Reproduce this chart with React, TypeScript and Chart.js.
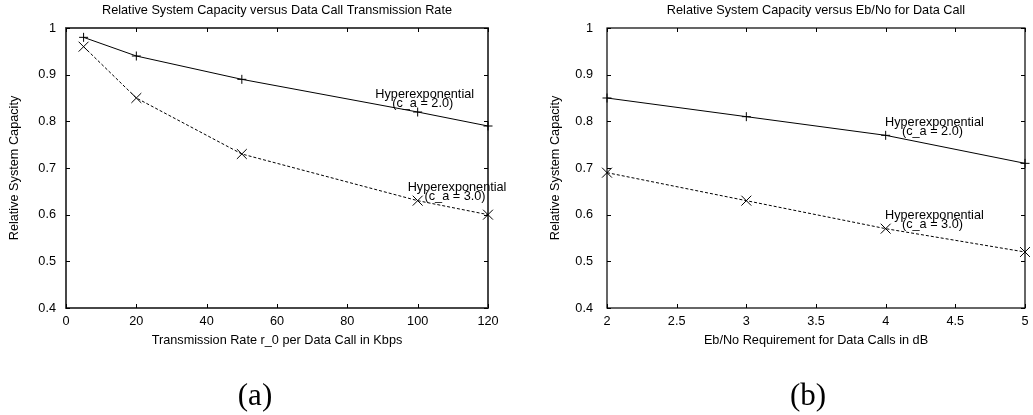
import React, { useEffect, useRef } from "react";
import { Chart, registerables } from "chart.js";

Chart.register(...registerables);

// ---- data ----
const rateX = [5, 20, 50, 100, 120];
const rateCa2 = [0.98, 0.94, 0.89, 0.82, 0.79];
const rateCa3 = [0.96, 0.85, 0.73, 0.63, 0.6];

const ebX = [2, 3, 4, 5];
const ebCa2 = [0.85, 0.81, 0.77, 0.71];
const ebCa3 = [0.69, 0.63, 0.57, 0.52];

const rateTicks = [0, 20, 40, 60, 80, 100, 120];
const rateTickLabels = ["0", "20", "40", "60", "80", "100", "120"];
const ebTicks = [2, 2.5, 3, 3.5, 4, 4.5, 5];
const ebTickLabels = ["2", "2.5", "3", "3.5", "4", "4.5", "5"];
const yTicks = [0.4, 0.5, 0.6, 0.7, 0.8, 0.9, 1];
const yTickLabels = ["0.4", "0.5", "0.6", "0.7", "0.8", "0.9", "1"];

const SANS = '"Liberation Sans", Arial, Helvetica, sans-serif';
const FONT = `12.7px ${SANS}`;

type Panel = {
  left: number;
  width: number;
  pad: { left: number; right: number; top: number; bottom: number };
  xMin: number;
  xMax: number;
  xs: number[];
  ca2: number[];
  ca3: number[];
  xTicks: number[];
  xTickLabels: string[];
  title: string;
  xTitle: string;
  yTitleX: number;
  yLabelGap: number;
  caption: string;
  captionX: number;
  frameWidth: number;
  frameColor: string;
  notes: { x: number; y: number; lines: string[] }[];
};

const panels: Panel[] = [
  {
    left: 0,
    width: 520,
    pad: { left: 66, right: 32, top: 28, bottom: 107 },
    xMin: 0,
    xMax: 120,
    xs: rateX,
    ca2: rateCa2,
    ca3: rateCa3,
    xTicks: rateTicks,
    xTickLabels: rateTickLabels,
    title: "Relative System Capacity versus Data Call Transmission Rate",
    xTitle: "Transmission Rate r_0 per Data Call in Kbps",
    yTitleX: 14,
    yLabelGap: 10,
    caption: "(a)",
    captionX: 255,
    frameWidth: 1.8,
    frameColor: "#333",
    notes: [
      { x: 102, y: 0.858, lines: ["Hyperexponential", "(c_a = 2.0)"] },
      { x: 111.2, y: 0.659, lines: ["Hyperexponential", "(c_a = 3.0)"] },
    ],
  },
  {
    left: 520,
    width: 513,
    pad: { left: 87, right: 4, top: 28, bottom: 107 },
    xMin: 2,
    xMax: 5,
    xs: ebX,
    ca2: ebCa2,
    ca3: ebCa3,
    xTicks: ebTicks,
    xTickLabels: ebTickLabels,
    title: "Relative System Capacity versus Eb/No for Data Call",
    xTitle: "Eb/No Requirement for Data Calls in dB",
    yTitleX: 35,
    yLabelGap: 14,
    caption: "(b)",
    captionX: 288,
    frameWidth: 1.2,
    frameColor: "#000",
    notes: [
      { x: 4.35, y: 0.7985, lines: ["Hyperexponential", "(c_a = 2.0)"] },
      { x: 4.35, y: 0.599, lines: ["Hyperexponential", "(c_a = 3.0)"] },
    ],
  },
];

function makePlugin(p: Panel) {
  return {
    id: "gnuplotFrame",
    beforeDatasetsDraw(chart: any) {
      const { ctx, chartArea } = chart;
      const xs = chart.scales.x;
      const ys = chart.scales.y;
      const { left, right, top, bottom } = chartArea;
      ctx.save();
      ctx.strokeStyle = p.frameColor;
      ctx.lineWidth = p.frameWidth;
      ctx.strokeRect(left, top, right - left, bottom - top);
      ctx.lineWidth = 1;
      ctx.strokeStyle = "#000";
      const tl = 4;
      ctx.beginPath();
      p.xTicks.forEach((t) => {
        const px = Math.round(xs.getPixelForValue(t)) + 0.5;
        ctx.moveTo(px, bottom);
        ctx.lineTo(px, bottom - tl);
        ctx.moveTo(px, top);
        ctx.lineTo(px, top + tl);
      });
      yTicks.forEach((t) => {
        const py = Math.round(ys.getPixelForValue(t)) + 0.5;
        ctx.moveTo(left, py);
        ctx.lineTo(left + tl, py);
        ctx.moveTo(right, py);
        ctx.lineTo(right - tl, py);
      });
      ctx.stroke();
      ctx.restore();
    },
    afterDraw(chart: any) {
      const { ctx, chartArea } = chart;
      const xs = chart.scales.x;
      const ys = chart.scales.y;
      const { left, right, top, bottom } = chartArea;
      const cx = (left + right) / 2;
      ctx.save();
      ctx.fillStyle = "#000";
      ctx.font = FONT;
      ctx.textBaseline = "middle";
      // y tick labels
      ctx.textAlign = "right";
      yTicks.forEach((t, i) => {
        ctx.fillText(yTickLabels[i], left - p.yLabelGap, ys.getPixelForValue(t));
      });
      // x tick labels
      ctx.textAlign = "center";
      p.xTicks.forEach((t, i) => {
        ctx.fillText(p.xTickLabels[i], xs.getPixelForValue(t), bottom + 13);
      });
      // title
      ctx.fillText(p.title, cx, 10);
      // x title
      ctx.fillText(p.xTitle, cx, bottom + 32);
      // y title
      ctx.save();
      ctx.translate(p.yTitleX, (top + bottom) / 2);
      ctx.rotate(-Math.PI / 2);
      ctx.fillText("Relative System Capacity", 0, 0);
      ctx.restore();
      // notes
      p.notes.forEach((n) => {
        const nx = xs.getPixelForValue(n.x);
        const ny = ys.getPixelForValue(n.y);
        n.lines.forEach((line, i) => {
          ctx.fillText(line, nx - i * 2, ny + i * 9);
        });
      });
      // caption
      ctx.font = `31px "Liberation Serif", "DejaVu Serif", serif`;
      ctx.fillText(p.caption, p.captionX, 397);
      ctx.restore();
    },
  };
}

function PanelChart({ p }: { p: Panel }) {
  const ref = useRef<HTMLCanvasElement | null>(null);
  useEffect(() => {
    if (!ref.current) return;
    const chart = new Chart(ref.current, {
      type: "line",
      data: {
        datasets: [
          {
            data: p.xs.map((x, i) => ({ x, y: p.ca2[i] })),
            borderColor: "#000",
            borderWidth: 1,
            pointStyle: "cross",
            pointRadius: 4.5,
            pointBorderColor: "#000",
            pointBorderWidth: 1,
            pointBackgroundColor: "#000",
            fill: false,
            tension: 0,
            clip: false,
          } as any,
          {
            data: p.xs.map((x, i) => ({ x, y: p.ca3[i] })),
            borderColor: "#000",
            borderWidth: 1,
            borderDash: [3, 2],
            pointStyle: "crossRot",
            pointRadius: 7,
            pointBorderColor: "#000",
            pointBorderWidth: 1,
            pointBackgroundColor: "#000",
            fill: false,
            tension: 0,
            clip: false,
          } as any,
        ],
      },
      options: {
        responsive: false,
        maintainAspectRatio: false,
        animation: false,
        events: [],
        layout: { padding: p.pad },
        scales: {
          x: { type: "linear", min: p.xMin, max: p.xMax, display: false },
          y: { type: "linear", min: 0.4, max: 1, display: false },
        },
        plugins: {
          legend: { display: false },
          tooltip: { enabled: false },
          title: { display: false },
        },
      },
      plugins: [makePlugin(p)],
    });
    return () => chart.destroy();
  }, [p]);
  return (
    <canvas
      ref={ref}
      width={p.width}
      height={415}
      style={{ position: "absolute", left: p.left, top: 0, width: p.width, height: 415, display: "block" }}
    />
  );
}

export default function App() {
  return (
    <div style={{ position: "absolute", left: 0, top: 0, width: 1033, height: 415, background: "#fff" }}>
      {panels.map((p, i) => (
        <PanelChart key={i} p={p} />
      ))}
    </div>
  );
}
